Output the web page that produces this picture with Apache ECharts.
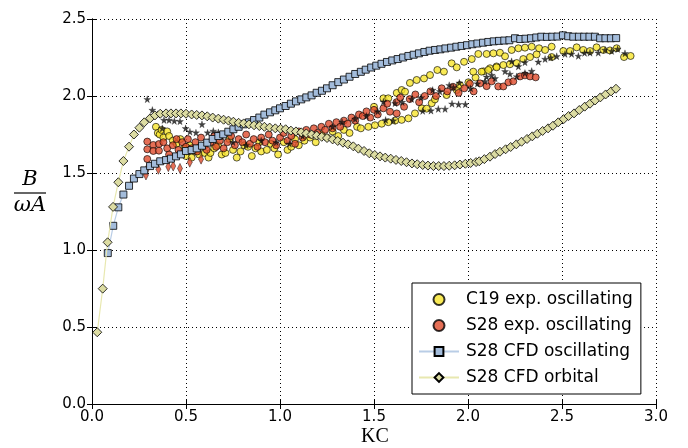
<!DOCTYPE html>
<html><head><meta charset="utf-8">
<script src="https://cdn.jsdelivr.net/npm/echarts@6/dist/echarts.min.js"></script>
<style>html,body{margin:0;padding:0;background:#fff}#c{width:688px;height:448px}</style>
</head><body><div id="c"></div>
<script>
// ---- data ----
const xTicks = [0, 0.5, 1.0, 1.5, 2.0, 2.5, 3.0];
const yTicks = [0, 0.5, 1.0, 1.5, 2.0, 2.5];
const seriesNames = ['C19 exp. oscillating', 'S28 exp. oscillating', 'S28 CFD oscillating', 'S28 CFD orbital'];

const c19Exp = [
[0.34,1.80],[0.35,1.76],[0.36,1.75],[0.37,1.78],[0.38,1.73],[0.40,1.77],[0.41,1.74],[0.43,1.71],[0.45,1.69],[0.47,1.72],
[0.49,1.66],[0.50,1.61],[0.52,1.68],[0.53,1.60],[0.55,1.64],[0.57,1.62],[0.58,1.67],[0.60,1.63],[0.62,1.60],[0.63,1.63],
[0.65,1.66],[0.67,1.68],[0.69,1.62],[0.71,1.63],[0.73,1.72],[0.75,1.65],[0.77,1.60],[0.79,1.64],[0.81,1.68],[0.83,1.67],
[0.85,1.61],[0.87,1.66],[0.89,1.70],[0.90,1.64],[0.93,1.65],[0.95,1.69],[0.97,1.66],[0.99,1.62],[1.02,1.70],[1.04,1.65],
[1.06,1.67],[1.08,1.72],[1.10,1.68],[1.13,1.71],[1.16,1.73],[1.19,1.70],[1.22,1.75],[1.25,1.73],[1.28,1.77],[1.31,1.74],
[1.34,1.78],[1.37,1.76],
[1.41,1.80],[1.43,1.79],[1.47,1.80],[1.505,1.81],[1.541,1.82],[1.576,1.83],[1.612,1.84],[1.647,1.845],[1.683,1.855],
[1.718,1.887],[1.754,1.92],[1.78,1.918],[1.807,1.953],[1.824,1.978],[1.886,2.006],[1.94,2.039],[1.957,2.071],[2.002,2.089],
[2.04,2.12],[2.082,2.16],[2.117,2.18],[2.152,2.192],[2.188,2.201],[2.223,2.206],[2.259,2.214],[2.294,2.24],[2.33,2.253],
[2.365,2.27],[2.445,2.253],
[1.50,1.93],[1.55,1.985],[1.576,1.985],[1.621,2.02],[1.647,2.039],[1.665,2.028],
[1.691,2.085],[1.727,2.104],[1.766,2.114],[1.798,2.136],[1.837,2.169],[1.872,2.158],[1.913,2.212],[1.94,2.186],
[1.979,2.222],[2.02,2.24],[2.028,2.158],[2.055,2.273],[2.072,2.158],[2.099,2.273],[2.108,2.169],[2.135,2.277],
[2.152,2.186],[2.17,2.281],[2.197,2.258],[2.232,2.299],[2.268,2.31],[2.303,2.314],[2.339,2.32],[2.378,2.31],
[2.41,2.299],[2.445,2.32],[2.507,2.292],[2.543,2.292],[2.578,2.316],[2.613,2.299],[2.649,2.292],[2.684,2.316],
[2.72,2.299],[2.755,2.296],[2.791,2.31],[2.83,2.253],[2.865,2.26]
];

const s28Exp = [
[0.294,1.704],[0.294,1.654],[0.294,1.591],[0.326,1.682],[0.326,1.643],[0.356,1.688],[0.356,1.645],[0.38,1.70],[0.40,1.66],
[0.41,1.62],[0.43,1.68],[0.45,1.72],[0.46,1.65],[0.48,1.70],[0.50,1.67],[0.51,1.72],[0.53,1.66],[0.55,1.70],[0.56,1.64],
[0.58,1.73],[0.60,1.68],[0.61,1.65],[0.63,1.70],[0.65,1.74],[0.66,1.67],[0.68,1.71],[0.70,1.66],[0.72,1.70],[0.74,1.74],
[0.76,1.68],[0.78,1.72],[0.80,1.70],[0.82,1.75],[0.84,1.69],[0.86,1.72],[0.88,1.67],[0.90,1.73],[0.92,1.70],[0.94,1.75],
[0.96,1.71],[0.98,1.68],[1.00,1.73],[1.02,1.76],[1.04,1.71],[1.06,1.74],[1.08,1.69],[1.10,1.77],[1.12,1.73],[1.14,1.78],
[1.16,1.75],[1.18,1.79],[1.20,1.76],[1.22,1.80],[1.24,1.78],[1.26,1.82],[1.28,1.79],[1.30,1.83],[1.32,1.80],[1.34,1.84],
[1.36,1.82],[1.38,1.86],[1.40,1.84],[1.42,1.88],[1.44,1.87],[1.46,1.90],[1.48,1.86],[1.50,1.91],[1.52,1.88],[1.55,1.92],
[1.57,1.95],[1.585,1.898],[1.62,1.96],[1.621,1.887],[1.64,1.99],[1.66,1.93],[1.69,1.98],[1.72,2.01],[1.74,1.96],[1.77,2.00],
[1.80,2.03],[1.83,2.00],[1.86,2.05],[1.89,2.03],[1.92,2.06],[1.95,2.02],[1.98,2.05],[2.01,2.08],[2.03,2.03],[2.064,2.082],
[2.099,2.064],[2.126,2.095],[2.161,2.062],[2.188,2.062],[2.215,2.089],[2.241,2.095],[2.277,2.127],[2.303,2.134],[2.33,2.127],[2.36,2.121]
];

const s28ExpDiamonds = [
[0.287,1.487],[0.294,1.53],[0.353,1.524],[0.406,1.541],[0.432,1.545],[0.468,1.53],[0.52,1.57],[0.58,1.59]
];

const stars = [
[0.294,1.979],[0.321,1.909],[0.349,1.881],[0.374,1.79],[0.383,1.844],[0.41,1.844],[0.438,1.838],[0.468,1.836],[0.498,1.79],
[0.521,1.768],[0.553,1.762],[0.585,1.816],[0.615,1.762],[0.645,1.773],[0.672,1.764],[0.69,1.736],
[0.75,1.70],[0.82,1.68],[0.90,1.71],[0.98,1.70],[1.05,1.69],[1.12,1.74],[1.20,1.75],[1.28,1.80],[1.33,1.83],[1.40,1.85],
[1.46,1.87],[1.52,1.90],[1.55,1.963],[1.562,1.844],[1.603,1.84],[1.612,1.953],[1.65,1.96],[1.70,1.98],[1.75,1.99],[1.759,1.903],
[1.803,1.905],[1.842,1.916],[1.878,1.916],[1.915,1.95],[1.95,1.946],[1.986,1.946],
[1.812,2.039],[1.85,2.03],[1.90,2.07],[1.922,2.056],[1.954,2.086],[2.014,2.049],[2.05,2.08],[2.09,2.095],[2.099,2.125],
[2.126,2.136],[2.144,2.115],[2.197,2.16],[2.223,2.143],[2.232,2.225],[2.259,2.127],[2.268,2.192],[2.303,2.219],[2.303,2.149],
[2.339,2.162],[2.374,2.222],[2.41,2.24],[2.44,2.25],[2.472,2.258],[2.516,2.273],[2.551,2.273],[2.587,2.26],[2.62,2.28],
[2.649,2.281],[2.693,2.281],[2.729,2.299],[2.764,2.292],[2.796,2.305],[2.835,2.277]
];

const cfdOsc = [
[0.084,0.98],[0.113,1.157],[0.14,1.277],[0.167,1.36],[0.197,1.417],[0.223,1.464],[0.252,1.493],[0.278,1.517],[0.309,1.545],
[0.335,1.56],[0.363,1.576],[0.394,1.584],[0.42,1.593],[0.447,1.608],[0.473,1.621],[0.5,1.643],[0.53,1.649],[0.557,1.66],
[0.585,1.677],[0.613,1.697],[0.642,1.721],[0.672,1.74],[0.698,1.751],[0.725,1.768],[0.752,1.784],[0.78,1.80],[0.807,1.816],
[0.835,1.829],[0.862,1.844],[0.89,1.86],[0.917,1.879],[0.947,1.894],[0.975,1.907],[1.0,1.92],[1.03,1.935],[1.058,1.95],
[1.085,1.965],[1.113,1.978],[1.14,1.991],[1.168,2.004],[1.195,2.021],[1.223,2.034],[1.25,2.05],[1.28,2.07],[1.31,2.09],
[1.34,2.107],[1.37,2.125],[1.40,2.143],[1.43,2.157],[1.456,2.171],[1.485,2.185],[1.512,2.197],[1.54,2.209],[1.569,2.221],
[1.597,2.231],[1.626,2.24],[1.655,2.25],[1.683,2.26],[1.711,2.268],[1.739,2.277],[1.768,2.286],[1.796,2.294],[1.825,2.299],
[1.853,2.303],[1.88,2.309],[1.91,2.314],[1.938,2.32],[1.966,2.325],[1.995,2.33],[2.023,2.336],[2.05,2.341],[2.08,2.346],
[2.108,2.351],[2.137,2.355],[2.165,2.358],[2.193,2.36],[2.22,2.362],[2.25,2.375],[2.278,2.37],[2.306,2.372],[2.335,2.375],
[2.363,2.38],[2.39,2.385],[2.42,2.384],[2.448,2.385],[2.476,2.386],[2.505,2.394],[2.533,2.388],[2.56,2.385],[2.59,2.385],
[2.618,2.385],[2.646,2.385],[2.675,2.385],[2.703,2.375],[2.731,2.375],[2.76,2.375],[2.788,2.376]
];

const cfdOrb = [
[0.028,0.466],[0.057,0.749],[0.083,1.05],[0.112,1.28],[0.14,1.44],[0.167,1.578],[0.197,1.671],[0.223,1.75],[0.252,1.794],
[0.278,1.829],[0.309,1.855],[0.335,1.874],[0.363,1.885],[0.394,1.887],[0.42,1.887],[0.447,1.887],[0.473,1.887],[0.5,1.885],
[0.53,1.88],[0.557,1.877],[0.585,1.874],[0.613,1.868],[0.642,1.86],[0.672,1.853],[0.70,1.846],[0.726,1.84],[0.752,1.833],
[0.78,1.826],[0.807,1.822],[0.835,1.816],[0.862,1.81],[0.89,1.805],[0.917,1.80],[0.945,1.795],[0.975,1.79],[1.003,1.787],
[1.03,1.784],[1.058,1.775],[1.085,1.77],[1.113,1.764],[1.14,1.757],[1.168,1.75],[1.195,1.743],[1.222,1.735],[1.25,1.727],
[1.28,1.718],[1.307,1.708],[1.335,1.697],[1.362,1.686],[1.39,1.673],[1.417,1.658],[1.447,1.643],[1.475,1.628],[1.504,1.617],
[1.532,1.608],[1.56,1.60],[1.589,1.593],[1.617,1.585],[1.645,1.578],[1.673,1.57],[1.702,1.562],[1.73,1.557],[1.759,1.552],
[1.787,1.548],[1.816,1.545],[1.844,1.545],[1.872,1.545],[1.90,1.547],[1.929,1.55],[1.957,1.555],[1.986,1.56],[2.014,1.565],
[2.043,1.571],[2.06,1.576],[2.087,1.59],[2.117,1.606],[2.144,1.623],[2.17,1.638],[2.2,1.654],[2.227,1.669],[2.257,1.686],
[2.285,1.703],[2.314,1.721],[2.342,1.738],[2.369,1.755],[2.397,1.773],[2.426,1.79],[2.452,1.807],[2.48,1.829],[2.509,1.85],
[2.535,1.87],[2.564,1.887],[2.592,1.909],[2.621,1.931],[2.649,1.95],[2.676,1.971],[2.704,1.991],[2.732,2.01],[2.761,2.03],[2.787,2.047]
];

// ---- chart ----
const chart = echarts.init(document.getElementById('c'), null, {renderer: 'canvas'});
const font = 'DejaVu Sans';
const starPath = 'path://M50,0 L61,35 L98,35 L68,57 L79,91 L50,70 L21,91 L32,57 L2,35 L39,35 Z';
const mainAxisCommon = {
  axisLine: {show: true, lineStyle: {color: '#000', width: 1}},
  axisTick: {show: true, inside: true, length: 5, lineStyle: {color: '#000'}},
  splitLine: {show: true, lineStyle: {color: '#000', type: [1, 3], width: 1}},
};
const option = {
  animation: false,
  backgroundColor: '#fff',
  grid: {left: 92, right: 32, top: 19, bottom: 44, containLabel: false},
  xAxis: [
    Object.assign({type: 'value', min: xTicks[0], max: xTicks[xTicks.length - 1], interval: 0.5,
      axisLabel: {color: '#000', fontFamily: font, fontSize: 15, margin: 6, formatter: v => v.toFixed(1)}}, mainAxisCommon),
    {type: 'value', position: 'top', min: 0, max: 3, interval: 0.5, axisLine: {show: true, lineStyle: {color: '#000'}},
      axisTick: {show: true, inside: true, length: 5, lineStyle: {color: '#000'}}, axisLabel: {show: false}, splitLine: {show: false}}
  ],
  yAxis: [
    Object.assign({type: 'value', min: yTicks[0], max: yTicks[yTicks.length - 1], interval: 0.5,
      axisLabel: {color: '#000', fontFamily: font, fontSize: 15, margin: 6, formatter: v => v.toFixed(1)}}, mainAxisCommon),
    {type: 'value', position: 'right', min: 0, max: 2.5, interval: 0.5, axisLine: {show: true, lineStyle: {color: '#000'}},
      axisTick: {show: true, inside: true, length: 5, lineStyle: {color: '#000'}}, axisLabel: {show: false}, splitLine: {show: false}}
  ],
  legend: {
    data: seriesNames,
    orient: 'vertical', left: 412, top: 283,
    padding: [8, 8, 8, 6], itemGap: 9, itemWidth: 40, itemHeight: 11,
    backgroundColor: '#fff', borderColor: '#000', borderWidth: 1, borderRadius: 0,
    textStyle: {fontFamily: font, fontSize: 17, color: '#000', padding: [0, 0, 0, 2]}
  },
  graphic: [
    {type: 'text', x: 30, y: 180, style: {text: 'B', font: 'italic 21px "DejaVu Serif"', fill: '#000', textAlign: 'center', textVerticalAlign: 'middle'}},
    {type: 'line', shape: {x1: 14, y1: 193, x2: 46, y2: 193}, style: {stroke: '#000', lineWidth: 1.2}},
    {type: 'text', x: 30, y: 206, style: {text: 'ωA', font: 'italic 21px "DejaVu Serif"', fill: '#000', textAlign: 'center', textVerticalAlign: 'middle'}},
    {type: 'text', x: 375, y: 437, style: {text: 'KC', font: '20px "Liberation Serif"', fill: '#000', textAlign: 'center', textVerticalAlign: 'middle'}}
  ],
  series: [
    {name: seriesNames[0], type: 'scatter', data: c19Exp, symbol: 'circle', symbolSize: 7, z: 2,
      itemStyle: {color: '#f7e52c', borderColor: '#000', borderWidth: 0.8}},
    {name: seriesNames[1], type: 'scatter', data: s28Exp, symbol: 'circle', symbolSize: 7, z: 3,
      itemStyle: {color: '#de4b2c', borderColor: '#000', borderWidth: 0.8}},
    {name: 'S28 exp. diamonds', type: 'scatter', data: s28ExpDiamonds, symbol: 'diamond', symbolSize: [5, 10], z: 3,
      itemStyle: {color: '#de4b2c', borderColor: '#000', borderWidth: 0.5}},
    {name: 'stars', type: 'scatter', data: stars, symbol: starPath, symbolSize: 7, z: 4,
      itemStyle: {color: '#111', borderColor: '#000', borderWidth: 0.3}},
    {name: seriesNames[2], type: 'line', data: cfdOsc, symbol: 'rect', symbolSize: 7, showSymbol: true, z: 5,
      lineStyle: {color: '#b9cde6', width: 1.2},
      itemStyle: {color: '#a3bcdb', borderColor: '#000', borderWidth: 0.8}},
    {name: seriesNames[3], type: 'line', data: cfdOrb, symbol: 'diamond', symbolSize: 9, showSymbol: true, z: 6,
      lineStyle: {color: '#e8e8b0', width: 1.2},
      itemStyle: {color: '#dcdca2', borderColor: '#000', borderWidth: 0.8}}
  ]
};
chart.setOption(option);
</script>
</body></html>
